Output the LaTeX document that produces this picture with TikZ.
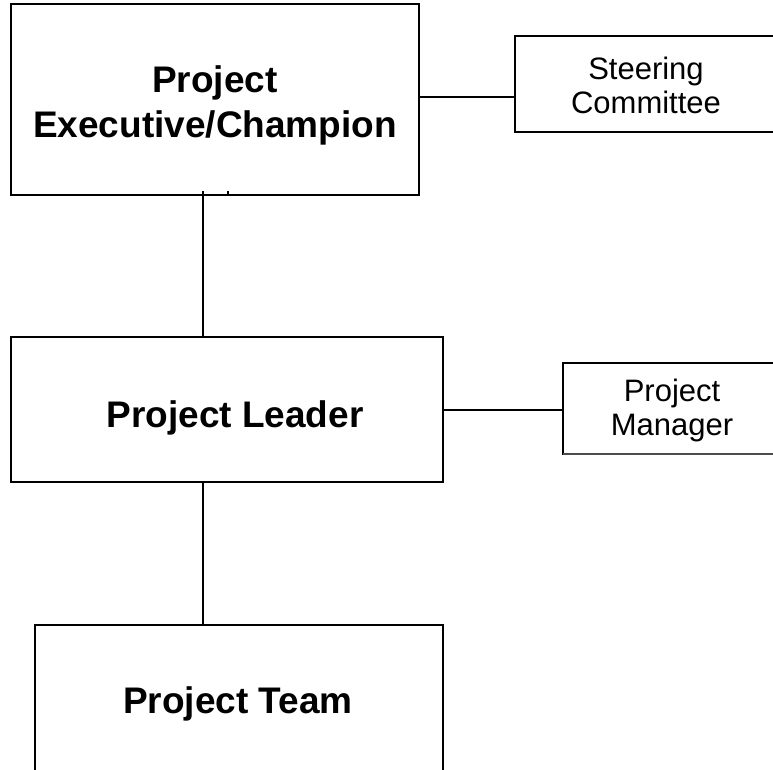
\documentclass[tikz,border=0pt]{standalone}
\usepackage{fontspec}
\setmainfont{Liberation Sans}
\begin{document}
\begin{tikzpicture}[x=1pt,y=-1pt,
  box/.style={line width=2.5pt, line join=miter, line cap=rect},
  faint/.style={line width=1.5pt, draw=black!70},
  link/.style={line width=2.2pt},
  big/.style={font=\fontsize{37}{45}\selectfont\bfseries, align=center, anchor=base, inner sep=0pt},
  small/.style={font=\fontsize{31}{34}\selectfont, align=center, anchor=base, inner sep=0pt}]
\useasboundingbox (0,0) rectangle (773,769);

% box outlines
\draw[box] (11,4) rectangle (419,195);
\draw[box] (773,36) -- (515,36) -- (515,132) -- (773,132);
\draw[box] (11,337) rectangle (443,482);
\draw[box] (773,363) -- (563,363) -- (563,454);
\draw[faint] (563,454) -- (773,454);
\draw[box] (35,769) -- (35,625) -- (443,625) -- (443,769);
\draw[line width=1.5pt] (228,191) -- (228,195);

% connector end points
\coordinate (execR) at (419,97);
\coordinate (steerL) at (515,97);
\coordinate (execB) at (203,191);
\coordinate (leadT) at (203,337);
\coordinate (leadR) at (443,410);
\coordinate (pmL) at (563,410);
\coordinate (leadB) at (203,482);
\coordinate (teamT) at (203,625);

\draw[link] (execR) -- (steerL);
\draw[link] (execB) -- (leadT);
\draw[link] (leadR) -- (pmL);
\draw[link] (leadB) -- (teamT);

% texts (base anchor = baseline of last line)
\node[big] (exec) at (215,137) {Project\\Executive/Champion};
\node[small] (steer) at (646,113) {Steering\\Committee};
\node[big] (lead) at (235,427) {Project Leader};
\node[small] (pm) at (672,435) {Project\\Manager};
\node[big] (team) at (238,713) {Project Team};
\end{tikzpicture}
\end{document}
